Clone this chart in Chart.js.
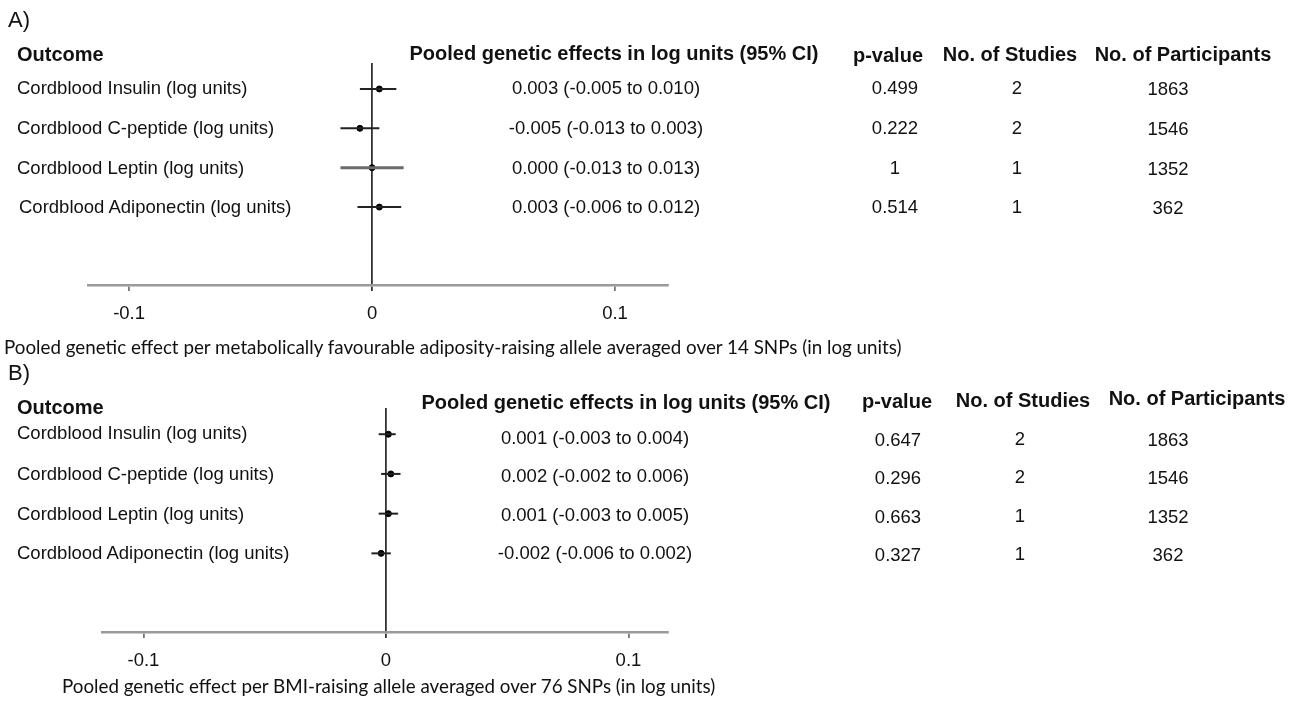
<!DOCTYPE html>
<html>
<head>
<meta charset="utf-8">
<script src="https://cdn.jsdelivr.net/npm/chart.js@4.4.0/dist/chart.umd.min.js"></script>
<style>
  html, body { margin: 0; padding: 0; background: #fff; }
  #page { position: relative; width: 1299px; height: 707px; overflow: hidden; font-family: "Liberation Sans", Arial, sans-serif; color: #111; }
  canvas { position: absolute; left: 0; }
  .t { position: absolute; white-space: nowrap; font-size: 18.5px; line-height: 1; }
  .l { transform: translateY(-50%); }
  .c { transform: translate(-50%, -50%); }
  .b { font-weight: bold; font-size: 20px; }
  .panel { font-size: 22px; }
  .cap { font-family: Lato, "Open Sans", sans-serif; font-size: 18.8px; }
</style>
</head>
<body>
<div id="page">
  <canvas id="chartA" width="1299" height="330" style="top:0px"></canvas>
  <canvas id="chartB" width="1299" height="332" style="top:345px"></canvas>
</div>
<script>
// ---- data ----
const outcomes = [
  "Cordblood Insulin (log units)",
  "Cordblood C-peptide (log units)",
  "Cordblood Leptin (log units)",
  "Cordblood Adiponectin (log units)"
];
const studies = [2, 2, 1, 1];
const participants = [1863, 1546, 1352, 362];

// panel A: metabolically favourable adiposity alleles
const estA = [0.003, -0.005, 0.000, 0.003];
const lowA = [-0.005, -0.013, -0.013, -0.006];
const highA = [0.010, 0.003, 0.013, 0.012];
const pA = ["0.499", "0.222", "1", "0.514"];

// panel B: BMI-raising alleles
const estB = [0.001, 0.002, 0.001, -0.002];
const lowB = [-0.003, -0.002, -0.003, -0.006];
const highB = [0.004, 0.006, 0.005, 0.002];
const pB = ["0.647", "0.296", "0.663", "0.327"];

const xTicks = [-0.1, 0, 0.1];
const xTickLabels = ["-0.1", "0", "0.1"];

const captionA = "Pooled genetic effect per metabolically favourable adiposity-raising allele averaged over 14 SNPs (in log units)";
const captionB = "Pooled genetic effect per BMI-raising allele averaged over 76 SNPs (in log units)";

// ---- text layer ----
const page = document.getElementById("page");
function addText(txt, x, y, cls) {
  const d = document.createElement("div");
  d.className = "t " + cls;
  d.textContent = txt;
  d.style.left = x + "px";
  d.style.top = y + "px";
  page.appendChild(d);
  return d;
}
function fmt(v) {
  return v.toFixed(3);
}
function ciText(e, lo, hi) {
  return `${fmt(e)} (${fmt(lo)} to ${fmt(hi)})`;
}

// panel A text
addText("A)", 8, 20, "l panel");
addText("Outcome", 17, 54, "l b");
addText("Pooled genetic effects in log units (95% CI)", 614, 53, "c b");
addText("p-value", 888, 55, "c b");
addText("No. of Studies", 1010, 54, "c b");
addText("No. of Participants", 1183, 54, "c b");
const rowYA = [88, 128, 168, 207];
outcomes.forEach((o, i) => {
  addText(o, i === 3 ? 19 : 17, rowYA[i], "l");
  addText(ciText(estA[i], lowA[i], highA[i]), 606, rowYA[i], "c");
  addText(pA[i], 895, rowYA[i], "c");
  addText(String(studies[i]), 1017, rowYA[i], "c");
  addText(String(participants[i]), 1168, rowYA[i] + 1, "c");
});
addText(captionA, 4, 347, "l cap");

// panel B text
addText("B)", 8, 373, "l panel");
addText("Outcome", 17, 407, "l b");
addText("Pooled genetic effects in log units (95% CI)", 626, 402, "c b");
addText("p-value", 897, 401, "c b");
addText("No. of Studies", 1023, 400, "c b");
addText("No. of Participants", 1197, 398, "c b");
const rowYB = [433, 474, 514, 553];
const valYB = [438, 476, 515, 553];
outcomes.forEach((o, i) => {
  addText(o, 17, rowYB[i], "l");
  addText(ciText(estB[i], lowB[i], highB[i]), 595, valYB[i], "c");
  addText(pB[i], 898, valYB[i] + 2, "c");
  addText(String(studies[i]), 1020, valYB[i] + 1, "c");
  addText(String(participants[i]), 1168, valYB[i] + 2, "c");
});
addText(captionB, 62, 686, "l cap");

// ---- forest plots ----
function forest(id, est, low, high, xmin, xmax, padLeft, ciColors, ciWidths) {
  const datasets = [];
  est.forEach((e, i) => {
    datasets.push({
      type: "line",
      data: [{ x: low[i], y: i + 1 }, { x: high[i], y: i + 1 }],
      borderColor: ciColors[i],
      borderWidth: ciWidths[i],
      pointRadius: 0,
      fill: false
    });
  });
  datasets.push({
    type: "scatter",
    data: est.map((e, i) => ({ x: e, y: i + 1 })),
    backgroundColor: "#000",
    borderColor: "#000",
    pointRadius: 3,
    pointStyle: "circle"
  });

  return new Chart(document.getElementById(id), {
    type: "scatter",
    data: { datasets },
    options: {
      responsive: false,
      animation: false,
      devicePixelRatio: 1,
      layout: { padding: { left: padLeft, right: 631, top: 63, bottom: 0 } },
      plugins: { legend: { display: false }, tooltip: { enabled: false } },
      scales: {
        x: {
          type: "linear",
          min: xmin,
          max: xmax,
          afterBuildTicks: s => { s.ticks = xTicks.map(v => ({ value: v })); },
          afterFit: s => { s.height = 45; },
          ticks: {
            callback: v => xTickLabels[xTicks.indexOf(v)],
            font: { family: "'Liberation Sans', Arial, sans-serif", size: 18.5 },
            color: "#111",
            padding: 12,
            maxRotation: 0
          },
          grid: {
            color: c => (c.tick && c.tick.value === 0 ? "#333" : "rgba(0,0,0,0)"),
            lineWidth: 1.8,
            tickColor: c => (c.tick && c.tick.value === 0 ? "#333" : "#777"),
            tickLength: 6
          },
          border: { display: true, color: "#9a9a9a", width: 2.5 }
        },
        y: {
          type: "linear",
          display: false,
          reverse: true,
          min: 0.34,
          max: 5.98
        }
      }
    }
  });
}

forest("chartA", estA, lowA, highA, -0.1169, 0.1218, 88,
  ["#222", "#222", "#6a6a6a", "#222"], [2, 2, 3, 2]);
forest("chartB", estB, lowB, highB, -0.1171, 0.1163, 102,
  ["#222", "#222", "#222", "#222"], [2, 2, 2, 2]);
</script>
</body>
</html>
